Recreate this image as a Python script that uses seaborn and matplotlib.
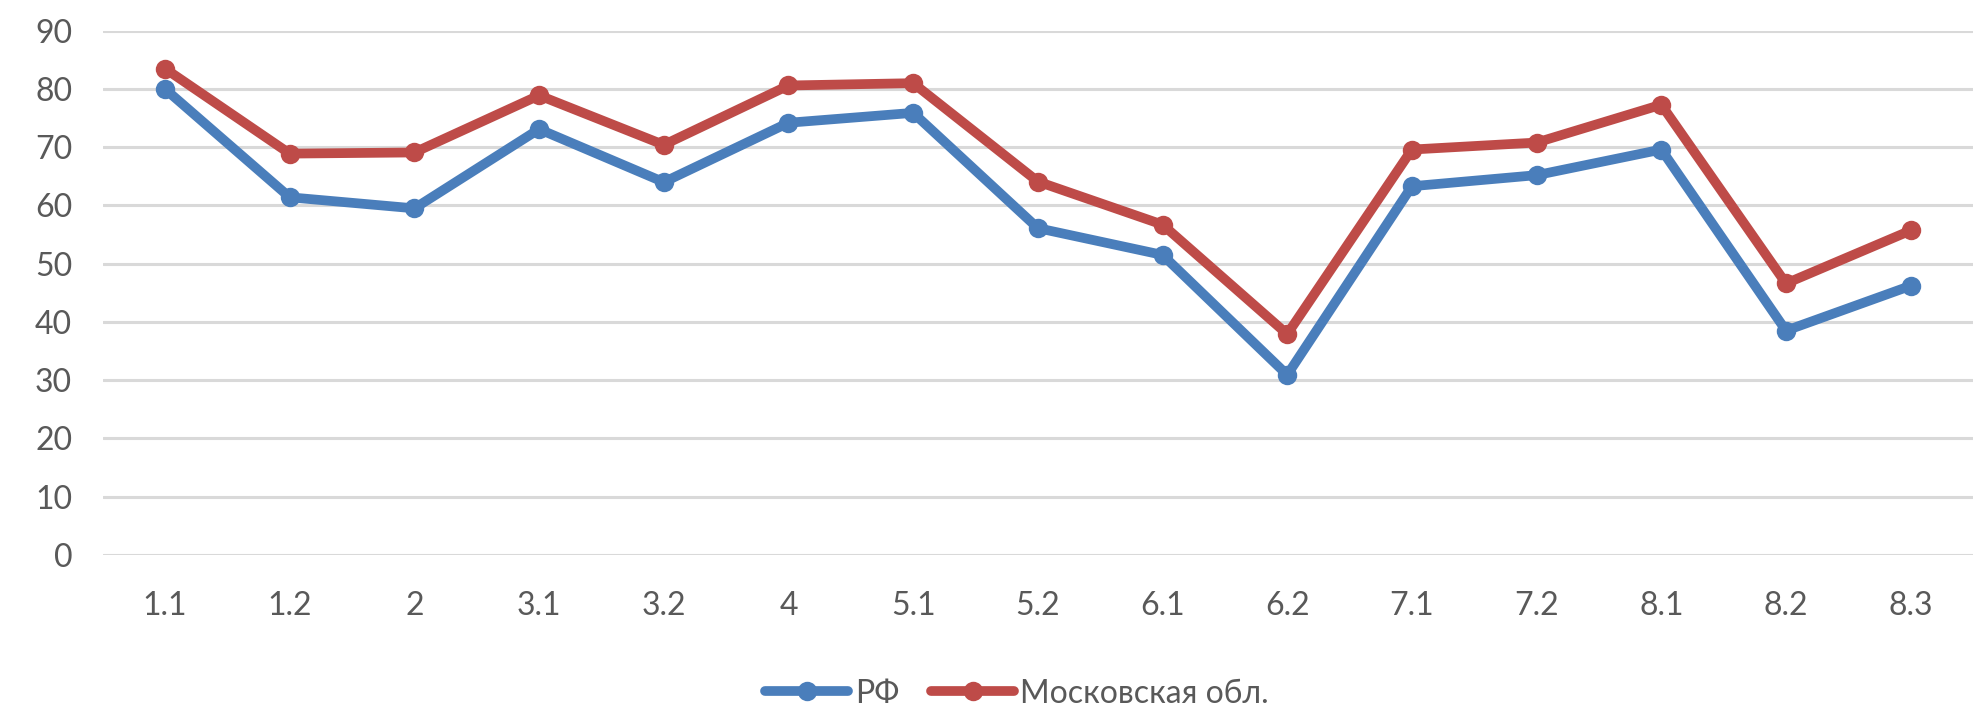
import pandas as pd
import numpy as np
import matplotlib.pyplot as plt
import seaborn as sns

# Data
categories = ["1.1", "1.2", "2", "3.1", "3.2", "4", "5.1", "5.2",
              "6.1", "6.2", "7.1", "7.2", "8.1", "8.2", "8.3"]
rf_values = [80.0, 61.4, 59.5, 73.1, 64.0, 74.2, 75.9, 56.1,
             51.5, 30.9, 63.3, 65.2, 69.6, 38.5, 46.2]
mo_values = [83.5, 68.9, 69.1, 78.9, 70.4, 80.6, 81.0, 64.1,
             56.7, 37.9, 69.6, 70.8, 77.3, 46.6, 55.7]
series_names = ["РФ", "Московская обл."]
y_ticks = [0, 10, 20, 30, 40, 50, 60, 70, 80, 90]

# Long-form table for seaborn
df = pd.DataFrame({
    "Пункт": categories * 2,
    "Значение": rf_values + mo_values,
    "Серия": [series_names[0]] * len(categories) + [series_names[1]] * len(categories),
})

sns.set_style("white")
plt.rcParams['font.family'] = ['Lato', 'DejaVu Sans']

fig = plt.figure(figsize=(19.75, 7.15), dpi=100)
ax = fig.add_axes([0.052, 0.224, 0.947, 0.733])

palette = {series_names[0]: "#4A7EBB", series_names[1]: "#BE4B48"}
sns.lineplot(data=df, x="Пункт", y="Значение", hue="Серия", palette=palette,
             sort=False, marker="o", markersize=14, markeredgewidth=0,
             linewidth=7, ax=ax, legend=False)

ax.set_xlim(-0.5, len(categories) - 0.5)
ax.set_ylim(0, 90)
ax.set_yticks(y_ticks)
ax.yaxis.grid(True, color="#D9D9D9", linewidth=2.2)
ax.set_axisbelow(True)
ax.tick_params(axis="both", length=0, labelsize=23, labelcolor="#595959")
ax.tick_params(axis="x", pad=26)
ax.tick_params(axis="y", pad=22)
ax.set_xlabel("")
ax.set_ylabel("")
for s in ax.spines.values():
    s.set_visible(False)

# Legend below the plot
handles = [plt.Line2D([], [], color=palette[n], linewidth=7, marker="o",
                      markersize=14, markeredgewidth=0) for n in series_names]
fig.legend(handles, series_names, loc="center", bbox_to_anchor=(0.515, 0.03),
           ncol=2, frameon=False, fontsize=23, handlelength=2.6,
           columnspacing=1.0, handletextpad=0.2, labelcolor="#595959")

plt.savefig("out.png", dpi=100)
